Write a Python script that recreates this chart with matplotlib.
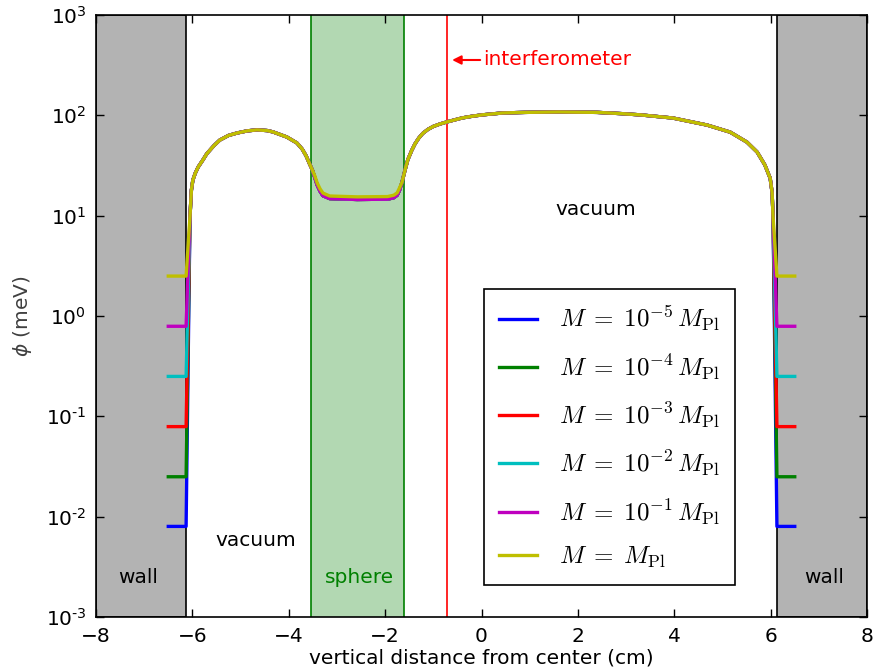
import matplotlib
matplotlib.use('Agg')
import matplotlib.pyplot as plt
from matplotlib.font_manager import FontProperties
from matplotlib.ticker import FixedLocator, FixedFormatter, NullLocator

# wall / sphere / interferometer positions (cm)
wall_edge = 6.13
wall_inner = 6.5
sphere_lo, sphere_hi = -3.54, -1.61
interf_x = -0.72

# field profile (cm, meV)
x_left = [-6.05, -6.02, -5.99, -5.94, -5.88, -5.78, -5.70, -5.55, -5.43,
          -5.25, -5.07, -4.86, -4.66, -4.45, -4.33, -4.04, -3.83, -3.72,
          -3.64, -3.57, -3.51]
phi_left = [9.7, 18.0, 22.6, 26.5, 30.5, 36.0, 41.5, 50.0, 56.7,
            63.0, 66.7, 70.0, 71.6, 70.5, 68.4, 60.8, 53.0, 46.0,
            39.5, 33.0, 28.5]

x_sphere = [-3.46, -3.41, -3.35, -3.29, -3.15, -2.58, -1.95, -1.82, -1.75, -1.70]
phi_sphere_pl = [25.0, 21.2, 18.5, 16.8, 15.7, 15.4, 15.5, 16.0, 16.9, 19.0]
phi_sphere_sub = [24.0, 20.2, 17.5, 15.8, 14.8, 14.5, 14.6, 15.1, 16.0, 18.0]

x_right = [-1.65, -1.59, -1.53, -1.45, -1.38, -1.30, -1.22, -1.11, -1.00,
           -0.86, -0.72, -0.56, -0.40, -0.20, 0.01, 0.43, 0.90, 1.60, 2.40,
           2.90, 3.30, 3.97, 4.68, 5.16, 5.51, 5.72, 5.88, 5.99, 6.03, 6.05]
phi_right = [21.5, 28.1, 36.0, 44.5, 52.0, 59.5, 66.0, 72.5, 77.5,
             82.0, 85.9, 90.0, 94.2, 97.8, 101.0, 105.5, 107.0, 108.0, 107.0,
             104.0, 101.0, 94.0, 80.0, 68.0, 54.0, 43.0, 32.0, 23.6, 17.0, 9.7]

# field value inside the walls, one per coupling
phi_wall = [0.008, 0.025, 0.079, 0.25, 0.79, 2.5]
colors = ['b', 'g', 'r', 'c', 'm', 'y']
labels = [r'$M\;=\;10^{-5}\,M_{\rm Pl}$', r'$M\;=\;10^{-4}\,M_{\rm Pl}$',
          r'$M\;=\;10^{-3}\,M_{\rm Pl}$', r'$M\;=\;10^{-2}\,M_{\rm Pl}$',
          r'$M\;=\;10^{-1}\,M_{\rm Pl}$', r'$M\;=\;M_{\rm Pl}$']

xticks = [-8, -6, -4, -2, 0, 2, 4, 6, 8]
yticks = [1e-3, 1e-2, 1e-1, 1e0, 1e1, 1e2, 1e3]
ytick_labels = [r'$\mathdefault{10^{\text{-}3}}$', r'$\mathdefault{10^{\text{-}2}}$',
                r'$\mathdefault{10^{\text{-}1}}$', r'$\mathdefault{10^{0}}$',
                r'$\mathdefault{10^{1}}$', r'$\mathdefault{10^{2}}$',
                r'$\mathdefault{10^{3}}$']

plt.rcParams['font.family'] = ['DejaVu Sans']

fig = plt.figure(figsize=(8.75, 6.69), dpi=100)
ax = fig.add_axes([0.1097, 0.0777, 0.8812, 0.8999])

ax.axvspan(-8, -wall_edge, facecolor='0.7', edgecolor='k', lw=1.2, zorder=0)
ax.axvspan(wall_edge, 8, facecolor='0.7', edgecolor='k', lw=1.2, zorder=0)
ax.axvspan(sphere_lo, sphere_hi, facecolor='g', alpha=0.3, zorder=0)
ax.axvline(sphere_lo, color='g', lw=1.2, zorder=1)
ax.axvline(sphere_hi, color='g', lw=1.2, zorder=1)
ax.axvline(interf_x, color='r', lw=1.2, zorder=1)

for i in range(len(phi_wall)):
    w = phi_wall[i]
    sph = phi_sphere_pl if colors[i] == 'y' else phi_sphere_sub
    xs = [-wall_inner, -wall_edge] + x_left + x_sphere + x_right + [wall_edge, wall_inner]
    ys = [w, w] + phi_left + sph + phi_right + [w, w]
    ax.plot(xs, ys, color=colors[i], lw=2.4, label=labels[i], zorder=3)

ax.set_yscale('log')
ax.set_xlim(-8, 8)
ax.set_ylim(1e-3, 1e3)
ax.xaxis.set_major_locator(FixedLocator(xticks))
ax.yaxis.set_major_locator(FixedLocator(yticks))
ax.yaxis.set_major_formatter(FixedFormatter(ytick_labels))
ax.yaxis.set_minor_locator(NullLocator())
ax.tick_params(which='major', direction='in', length=5.5, width=1,
               top=True, right=True, labelsize=14.5, pad=7)
for s in ax.spines.values():
    s.set_linewidth(1.2)

ax.set_xlabel('vertical distance from center (cm)', fontsize=14.5, labelpad=2)
ax.set_ylabel(r'$\phi$ (meV)', fontsize=14.5, labelpad=8, color='0.25')

ax.text(-7.13, 2.45e-3, 'wall', fontsize=14.5, ha='center', va='center')
ax.text(7.11, 2.45e-3, 'wall', fontsize=14.5, ha='center', va='center')
ax.text(-4.68, 5.8e-3, 'vacuum', fontsize=14.5, ha='center', va='center')
ax.text(2.38, 11.4, 'vacuum', fontsize=14.5, ha='center', va='center')
ax.text(-2.54, 2.45e-3, 'sphere', fontsize=14.5, ha='center', va='center', color='g')
ax.annotate('interferometer', xy=(-0.61, 356), xytext=(0.03, 356),
            fontsize=14.5, color='r', ha='left', va='center',
            arrowprops=dict(arrowstyle='-|>', color='r', lw=1.5,
                            mutation_scale=13, shrinkA=0, shrinkB=0))

leg_font = FontProperties(family='DejaVu Serif', size=18, math_fontfamily='cm')
leg = ax.legend(loc='lower right', bbox_to_anchor=(0.829, 0.053),
                borderaxespad=0, prop=leg_font, fancybox=False,
                handlelength=1.55, handletextpad=0.87, labelspacing=0.73,
                borderpad=0.6, framealpha=1)
leg.get_frame().set_edgecolor('k')
leg.get_frame().set_linewidth(1.2)

fig.savefig('out.png', dpi=100)
